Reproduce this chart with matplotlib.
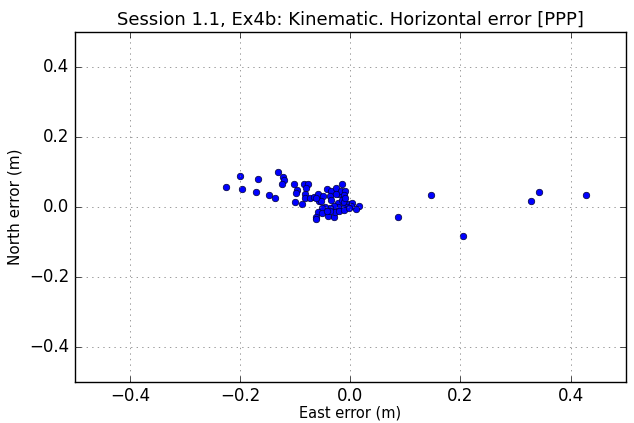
"""Horizontal PPP error scatter, Session 1.1 Ex4b (kinematic)."""

import matplotlib

matplotlib.use("Agg")

import matplotlib.pyplot as plt

# East / North errors in metres
east_error = [
    -0.225, -0.200, -0.197, -0.168, -0.172, -0.148, -0.136, -0.132, -0.123, -0.121,
    -0.124, -0.103, -0.096, -0.099, -0.100, -0.088, -0.084, -0.076, -0.080, -0.082,
    -0.082, -0.074, -0.065, -0.059, -0.057, -0.049, -0.043, -0.035, -0.037, -0.026,
    -0.021, -0.015, -0.017, -0.009, -0.011, -0.026, -0.035, -0.022, -0.015, -0.011,
    -0.002, 0.003, 0.015, 0.011, 0.002, -0.006, -0.014, -0.022, -0.030, -0.037,
    -0.045, -0.051, -0.059, -0.062, -0.062, -0.051, -0.040, -0.030, -0.027, -0.021,
    -0.011, -0.002, -0.036, -0.043, -0.053, -0.063, -0.009,
    0.086, 0.146, 0.205, 0.328, 0.343, 0.428,
]
north_error = [
    0.058, 0.087, 0.051, 0.081, 0.043, 0.033, 0.025, 0.100, 0.086, 0.078,
    0.064, 0.064, 0.048, 0.041, 0.014, 0.007, 0.066, 0.066, 0.054, 0.038,
    0.026, 0.024, 0.028, 0.038, 0.018, 0.032, 0.050, 0.046, 0.031, 0.055,
    0.037, 0.064, 0.046, 0.046, 0.033, 0.038, 0.021, 0.012, 0.021, 0.015,
    0.009, 0.012, 0.001, -0.006, 0.002, 0.000, -0.002, 0.000, 0.003, -0.002,
    0.000, -0.004, -0.016, -0.028, -0.035, -0.018, -0.025, -0.028, -0.016, -0.011,
    -0.009, -0.004, -0.013, -0.011, 0.017, 0.026, 0.026,
    -0.028, 0.035, -0.083, 0.017, 0.043, 0.033,
]

plt.style.use("classic")

fig = plt.figure(figsize=(6.34, 4.23), dpi=100, facecolor="white")
ax = fig.add_axes([0.118, 0.098, 0.869, 0.826])

ax.scatter(east_error, north_error, s=22, c="b", edgecolors="#000033", linewidths=0.5)

ax.set_xlim(-0.5, 0.5)
ax.set_ylim(-0.5, 0.5)
ax.set_xticks([-0.4, -0.2, 0.0, 0.2, 0.4])
ax.set_yticks([-0.4, -0.2, 0.0, 0.2, 0.4])
ax.tick_params(labelsize=12)
ax.grid(True, color="0.45")

ax.set_title("Session 1.1, Ex4b: Kinematic. Horizontal error [PPP]", fontsize=13)
ax.set_xlabel("East error (m)", fontsize=10.5, labelpad=0)
ax.set_ylabel("North error (m)", fontsize=11)

fig.savefig("out.png", dpi=100, facecolor="white")
